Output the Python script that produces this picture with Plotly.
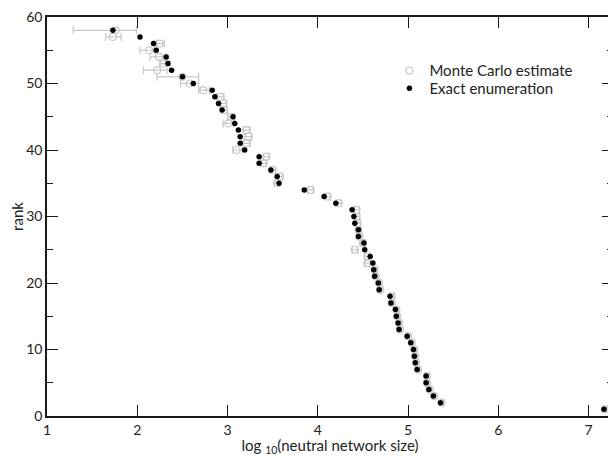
import plotly.graph_objects as go

# Exact enumeration: rank -> log10(neutral network size)
exact_rank = list(range(1, 59))
exact_x = [7.17, 5.36, 5.28, 5.23, 5.20, 5.20, 5.10, 5.08, 5.07, 5.06,
           5.03, 4.99, 4.90, 4.89, 4.87, 4.86, 4.81, 4.80, 4.68, 4.67,
           4.63, 4.62, 4.61, 4.58, 4.52, 4.51, 4.45, 4.45, 4.41, 4.40,
           4.38, 4.20, 4.07, 3.85, 3.57, 3.55, 3.48, 3.35, 3.35, 3.19,
           3.14, 3.14, 3.12, 3.08, 3.06, 2.94, 2.90, 2.86, 2.83, 2.62,
           2.50, 2.38, 2.34, 2.32, 2.21, 2.18, 2.03, 1.73]

# Monte Carlo estimates with asymmetric horizontal error bars
mc_rank = list(range(1, 59))
mc_x = [7.18, 5.37, 5.29, 5.24, 5.21, 5.21, 5.11, 5.09, 5.08, 5.07,
        5.04, 5.00, 4.91, 4.90, 4.88, 4.87, 4.82, 4.82, 4.69, 4.68,
        4.64, 4.63, 4.55, 4.55, 4.41, 4.50, 4.46, 4.45, 4.44, 4.43,
        4.43, 4.23, 4.11, 3.92, 3.55, 3.58, 3.50, 3.40, 3.43, 3.10,
        3.21, 3.23, 3.21, 3.01, 3.04, 2.96, 2.95, 2.92, 2.73, 2.58,
        2.50, 2.22, 2.29, 2.24, 2.13, 2.25, 1.73, 1.76]
mc_err_plus = [0.02, 0.02, 0.02, 0.02, 0.02, 0.02, 0.02, 0.02, 0.02, 0.02,
               0.02, 0.02, 0.02, 0.02, 0.02, 0.02, 0.02, 0.02, 0.02, 0.02,
               0.02, 0.02, 0.03, 0.03, 0.03, 0.03, 0.03, 0.03, 0.03, 0.03,
               0.03, 0.03, 0.03, 0.03, 0.03, 0.03, 0.03, 0.03, 0.03, 0.06,
               0.04, 0.04, 0.04, 0.06, 0.04, 0.04, 0.04, 0.04, 0.07, 0.10,
               0.18, 0.11, 0.07, 0.08, 0.06, 0.05, 0.09, 0.23]
mc_err_minus = [0.02, 0.02, 0.02, 0.02, 0.02, 0.02, 0.02, 0.02, 0.02, 0.02,
                0.02, 0.02, 0.02, 0.02, 0.02, 0.02, 0.02, 0.02, 0.02, 0.02,
                0.02, 0.02, 0.03, 0.03, 0.03, 0.03, 0.03, 0.03, 0.03, 0.03,
                0.03, 0.03, 0.03, 0.03, 0.03, 0.03, 0.03, 0.03, 0.03, 0.04,
                0.04, 0.04, 0.04, 0.06, 0.04, 0.04, 0.04, 0.04, 0.05, 0.10,
                0.28, 0.15, 0.04, 0.10, 0.10, 0.04, 0.08, 0.47]

x_ticks = [1, 2, 3, 4, 5, 6, 7]
y_ticks = [0, 10, 20, 30, 40, 50, 60]

FONT = "Lato"
AXIS_COLOR = "#1a1a1a"
GRAY = "#c8c8c8"

fig = go.Figure()

fig.add_trace(go.Scatter(
    x=mc_x, y=mc_rank, mode="markers", name="Monte Carlo estimate",
    marker=dict(symbol="circle-open", size=7, color=GRAY, line=dict(width=1.2, color=GRAY)),
    error_x=dict(type="data", symmetric=False, array=mc_err_plus, arrayminus=mc_err_minus,
                 color=GRAY, thickness=1.2, width=4),
    cliponaxis=False, legend="legend",
))

fig.add_trace(go.Scatter(
    x=exact_x, y=exact_rank, mode="markers", name="Exact enumeration",
    marker=dict(symbol="circle", size=5.5, color="black"),
    cliponaxis=False, legend="legend2",
))

axis_common = dict(
    showline=True, linecolor=AXIS_COLOR, linewidth=1.5, mirror="ticks",
    ticks="inside", ticklen=11, tickwidth=1.2, tickcolor=AXIS_COLOR,
    showgrid=False, zeroline=False, ticklabeloverflow="allow", automargin=False,
    tickfont=dict(family=FONT, size=14, color="#222"),
)

legend_common = dict(xanchor="left", yanchor="middle", bgcolor="rgba(0,0,0,0)",
                     font=dict(family=FONT, size=15, color="#222"), itemsizing="trace")

# The page body has an 8px default margin; the figure size/margins account for it.
fig.update_layout(
    width=608, height=448,
    margin=dict(l=39, r=3, t=9, b=40),
    paper_bgcolor="white", plot_bgcolor="white",
    font=dict(family=FONT, size=14, color="#222"),
    showlegend=True,
    legend=dict(x=0.605, y=0.865, **legend_common),
    legend2=dict(x=0.605, y=0.821, **legend_common),
    xaxis=dict(range=[1, 7.27], tickvals=x_ticks, ticktext=[str(v) for v in x_ticks],
               title=dict(text="log <sub>10</sub>(neutral network size)", standoff=3,
                          font=dict(family=FONT, size=15, color="#222")),
               **axis_common),
    yaxis=dict(range=[0, 60], tickvals=y_ticks, ticktext=[str(v) for v in y_ticks],
               title=dict(text="rank", standoff=8, font=dict(family=FONT, size=15, color="#222")),
               minor=dict(dtick=5, ticks="inside", ticklen=6, tickwidth=1.2, tickcolor=AXIS_COLOR,
                          showgrid=False),
               **axis_common),
)

fig.write_html("out.html")
